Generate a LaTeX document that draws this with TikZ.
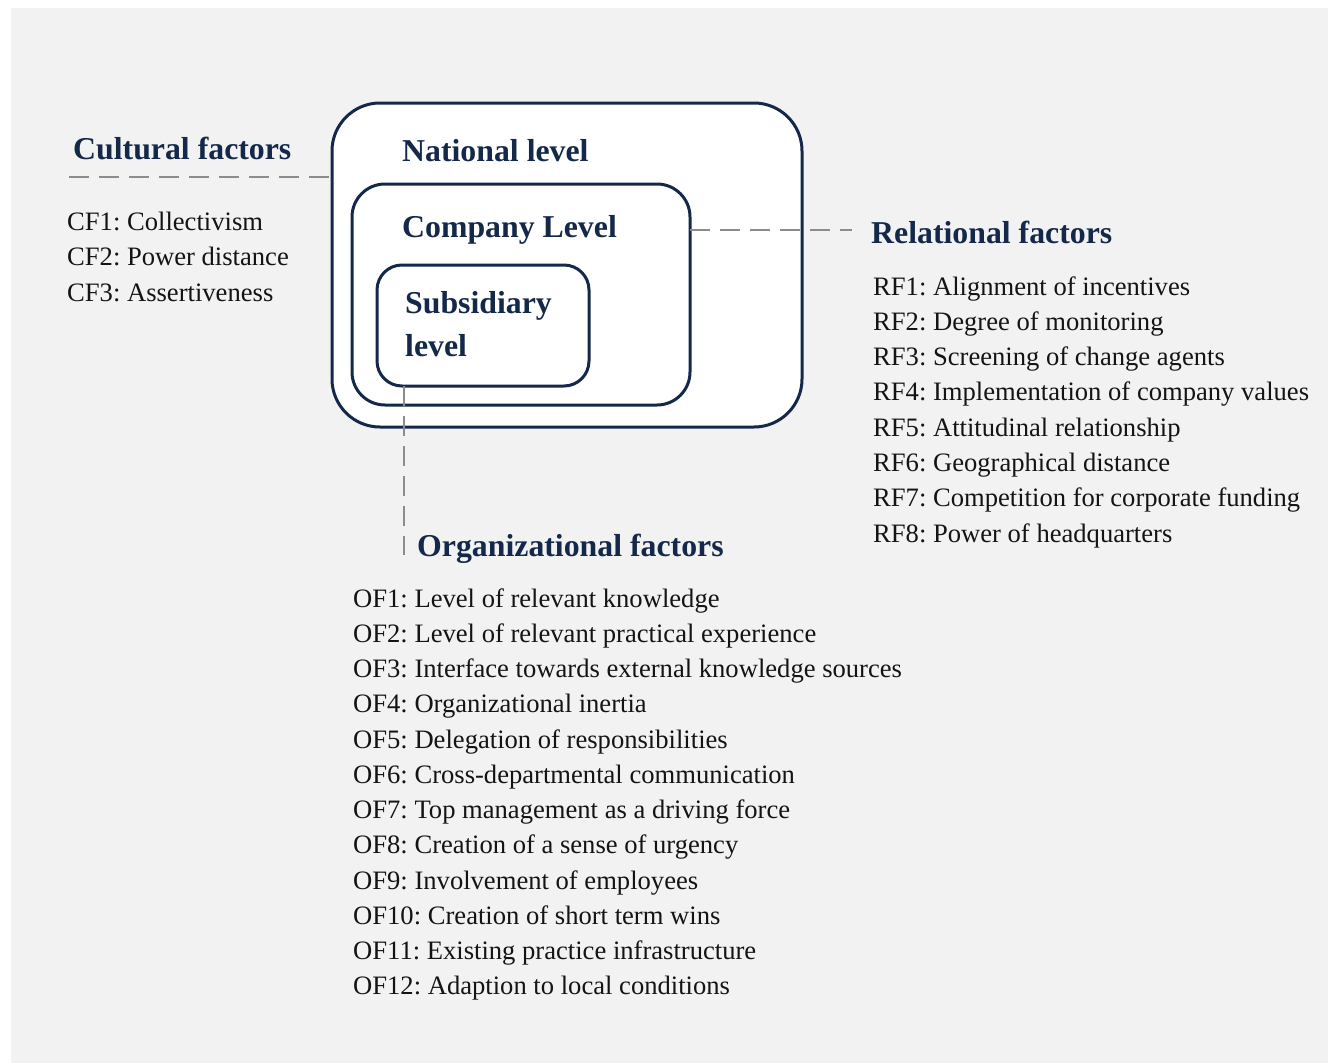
\documentclass[tikz,border=0pt]{standalone}
\usepackage{fontspec}
\setmainfont{Liberation Serif}
\usetikzlibrary{calc}
\definecolor{navy}{HTML}{14294A}
\definecolor{dashgray}{HTML}{8C8C8C}
\definecolor{panel}{HTML}{F2F2F2}
\frenchspacing
\begin{document}
\begin{tikzpicture}[x=1pt,y=-1pt,
  levelbox/.style={draw=navy,line width=3pt,fill=white,inner sep=0pt},
  leveltext/.style={anchor=base west,inner sep=0pt,text=navy,font=\fontsize{31.8}{40}\selectfont\bfseries},
  grouptitle/.style={anchor=base west,inner sep=0pt,text=navy,font=\fontsize{31.8}{40}\selectfont\bfseries},
  item/.style={anchor=base west,inner sep=0pt,text=black!92,font=\fontsize{26.6}{30}\selectfont},
  link/.style={draw=dashgray,line width=2.6pt,dash pattern=on 20pt off 10pt}]
  % canvas
  \useasboundingbox (0,0) rectangle (1328,1063);
  \fill[panel] (11,8) rectangle (1328,1063);

  % nested levels
  \draw[levelbox,rounded corners=48pt] (332,103) rectangle (802,427);
  \draw[levelbox,rounded corners=33pt] (352,184) rectangle (690,405);
  \draw[levelbox,rounded corners=25pt] (377,265) rectangle (589,386);
  \coordinate (natW) at (332,177);
  \coordinate (compE) at (690,230);
  \coordinate (subS) at (404,386);

  \node[leveltext] (national) at (402,161) {National level};
  \node[leveltext] (company) at (402,237) {Company Level};
  \node[leveltext] (subsidiary) at (405,313) {Subsidiary};
  \node[leveltext] (subsidiary2) at (405,356) {level};

  % group headings
  \node[grouptitle] (cultural) at (73,159) {Cultural factors};
  \node[grouptitle] (relational) at (871,243) {Relational factors};
  \node[grouptitle] (organizational) at (417,556) {Organizational factors};

  % dashed leaders
  \coordinate (cfEnd) at (69,177);
  \coordinate (rfEnd) at (852,230);
  \coordinate (ofEnd) at (404,555);
  \draw[link] (cfEnd) -- (natW);
  \draw[link] (compE) -- (rfEnd);
  \draw[link] (subS) -- (ofEnd);

  % cultural factors
  \foreach \t [count=\i] in {Collectivism, Power distance, Assertiveness}
    \node[item] (cf\i) at (67,{230+(\i-1)*35.5}) {CF\i: \t};

  % relational factors
  \foreach \t [count=\i] in {Alignment of incentives, Degree of monitoring,
      Screening of change agents, Implementation of company values,
      Attitudinal relationship, Geographical distance,
      Competition for corporate funding, Power of headquarters}
    \node[item] (rf\i) at (873,{295+(\i-1)*35.3}) {RF\i: \t};

  % organizational factors
  \foreach \t [count=\i] in {Level of relevant knowledge,
      Level of relevant practical experience,
      Interface towards external knowledge sources,
      Organizational inertia, Delegation of responsibilities,
      Cross-departmental communication,
      Top management as a driving force,
      Creation of a sense of urgency, Involvement of employees,
      Creation of short term wins, Existing practice infrastructure,
      Adaption to local conditions}
    \node[item] (of\i) at (353,{607+(\i-1)*35.27}) {OF\i: \t};
\end{tikzpicture}
\end{document}
